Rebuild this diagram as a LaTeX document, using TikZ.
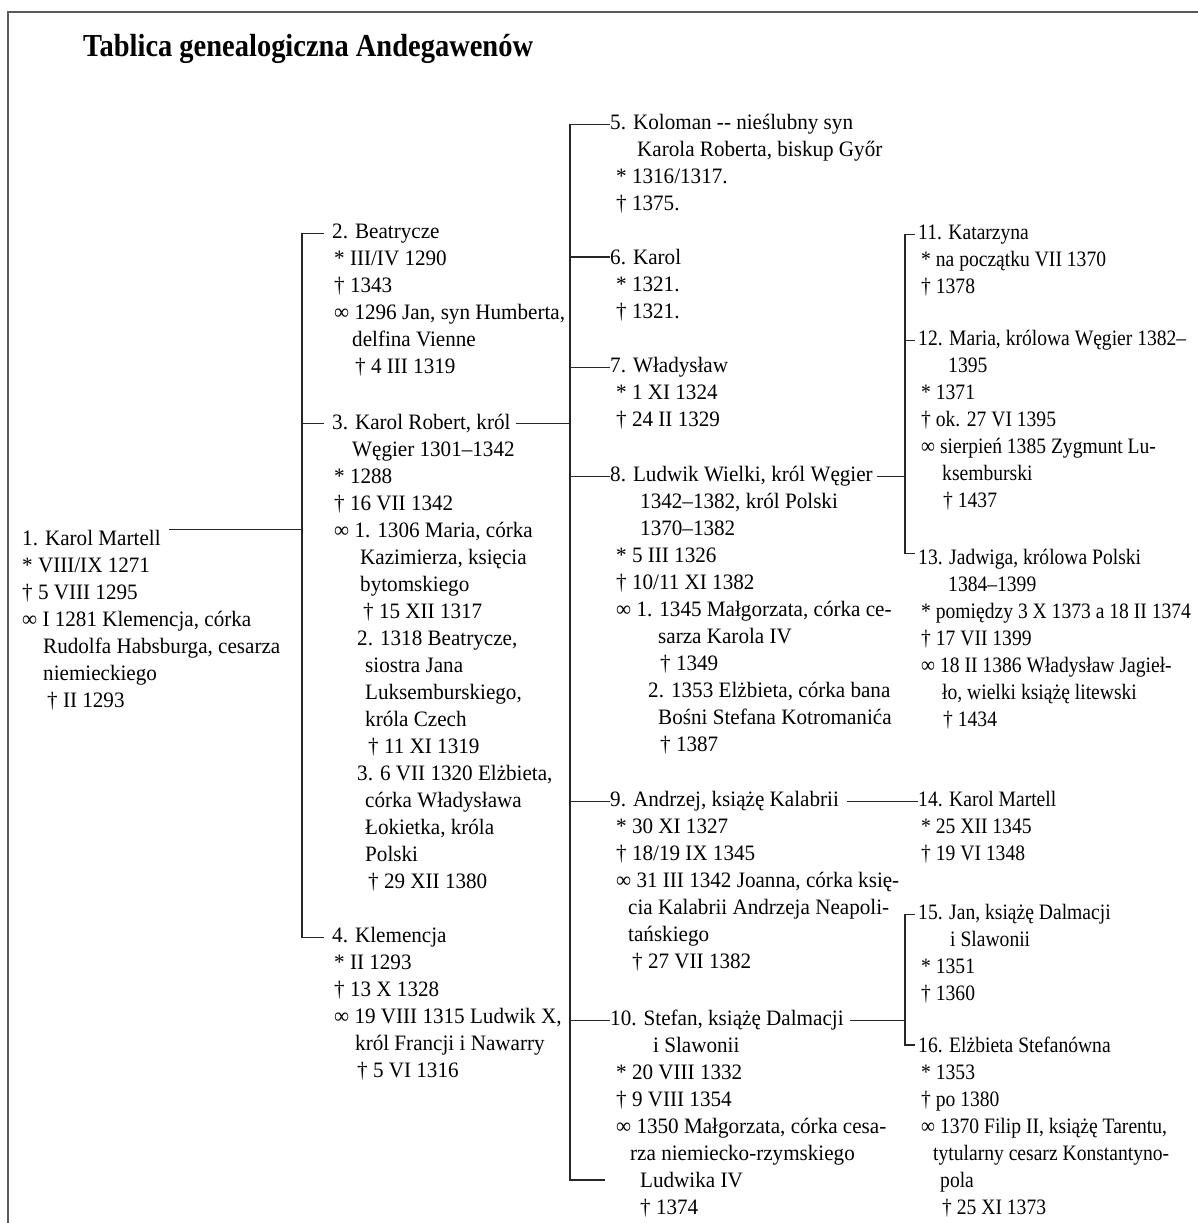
\documentclass[tikz,border=0pt]{standalone}
\usepackage{fontspec}
\setmainfont[FakeStretch=0.96]{Liberation Serif}
\newfontfamily\prawafont[FakeStretch=0.89]{Liberation Serif}
\newfontfamily\tytulfont[FakeStretch=0.89]{Liberation Serif}
\newcommand\osobafont{\fontsize{22}{27}\selectfont}

\begin{document}
\begin{tikzpicture}[x=1pt, y=-1pt,
    osoba/.style={anchor=base west, inner sep=0pt, font=\osobafont},
    dane/.style={osoba, align=left},
    prawa/.style={font=\osobafont\prawafont},
    linia/.style={line width=1.2pt, black!85}]

    \useasboundingbox (0,0) rectangle (1198,1223);
    \draw[line width=2pt, black!65] (8,1223) -- (8,12) -- (1198,12);

    \node[anchor=base west, inner sep=0pt, font=\fontsize{32}{36}\selectfont\tytulfont\bfseries] (tytul) at (83,57) {Tablica genealogiczna Andegawenów};

    \node[osoba] (n1) at (22,545) {1. Karol Martell};
    \node[dane] (n1d) at ([yshift=-162pt]n1.base west) {* VIII/IX 1271\\† 5 VIII 1295\\∞ I 1281 Klemencja, córka\\\hspace*{21pt}Rudolfa Habsburga, cesarza\\\hspace*{21pt}niemieckiego\\\hspace*{25pt}† II 1293};

    \node[osoba] (n2) at (332,238.5) {2. Beatrycze};
    \node[dane] (n2d) at ([xshift=2pt,yshift=-135pt]n2.base west) {* III/IV 1290\\† 1343\\∞ 1296 Jan, syn Humberta,\\\hspace*{18pt}delfina Vienne\\\hspace*{21pt}† 4 III 1319};
    \node[osoba] (n3) at (332,429.5) {3. Karol Robert, król};
    \node[dane] (n3d) at ([xshift=2pt,yshift=-459pt]n3.base west) {\hspace*{18pt}Węgier 1301–1342\\* 1288\\† 16 VII 1342\\∞ 1. 1306 Maria, córka\\\hspace*{26pt}Kazimierza, księcia\\\hspace*{26pt}bytomskiego\\\hspace*{29pt}† 15 XII 1317\\\hspace*{23pt}2. 1318 Beatrycze,\\\hspace*{31pt}siostra Jana\\\hspace*{31pt}Luksemburskiego,\\\hspace*{31pt}króla Czech\\\hspace*{34pt}† 11 XI 1319\\\hspace*{23pt}3. 6 VII 1320 Elżbieta,\\\hspace*{31pt}córka Władysława\\\hspace*{31pt}Łokietka, króla\\\hspace*{31pt}Polski\\\hspace*{34pt}† 29 XII 1380};
    \node[osoba] (n4) at (332,942.5) {4. Klemencja};
    \node[dane] (n4d) at ([xshift=2pt,yshift=-135pt]n4.base west) {* II 1293\\† 13 X 1328\\∞ 19 VIII 1315 Ludwik X,\\\hspace*{21pt}król Francji i Nawarry\\\hspace*{23pt}† 5 VI 1316};

    \node[osoba] (n5) at (610,129.5) {5. Koloman -{}- nieślubny syn};
    \node[dane] (n5d) at ([xshift=6pt,yshift=-81pt]n5.base west) {\hspace*{21pt}Karola Roberta, biskup Győr\\* 1316/1317.\\† 1375.};
    \node[osoba] (n6) at (610,264.5) {6. Karol};
    \node[dane] (n6d) at ([xshift=6pt,yshift=-54pt]n6.base west) {* 1321.\\† 1321.};
    \node[osoba] (n7) at (610,372.5) {7. Władysław};
    \node[dane] (n7d) at ([xshift=6pt,yshift=-54pt]n7.base west) {* 1 XI 1324\\† 24 II 1329};
    \node[osoba] (n8) at (610,481.5) {8. Ludwik Wielki, król Węgier};
    \node[dane] (n8d) at ([xshift=6pt,yshift=-270pt]n8.base west) {\hspace*{24pt}1342–1382, król Polski\\\hspace*{24pt}1370–1382\\* 5 III 1326\\† 10/11 XI 1382\\∞ 1. 1345 Małgorzata, córka ce-\\\hspace*{42pt}sarza Karola IV\\\hspace*{44pt}† 1349\\\hspace*{32pt}2. 1353 Elżbieta, córka bana\\\hspace*{42pt}Bośni Stefana Kotromanića\\\hspace*{44pt}† 1387};
    \node[osoba] (n9) at (610,806.5) {9. Andrzej, książę Kalabrii};
    \node[dane] (n9d) at ([xshift=6pt,yshift=-162pt]n9.base west) {* 30 XI 1327\\† 18/19 IX 1345\\∞ 31 III 1342 Joanna, córka księ-\\\hspace*{12pt}cia Kalabrii Andrzeja Neapoli-\\\hspace*{12pt}tańskiego\\\hspace*{16pt}† 27 VII 1382};
    \node[osoba] (n10) at (610,1025.5) {10. Stefan, książę Dalmacji};
    \node[dane] (n10d) at ([xshift=6pt,yshift=-189pt]n10.base west) {\hspace*{37pt}i Slawonii\\* 20 VIII 1332\\† 9 VIII 1354\\∞ 1350 Małgorzata, córka cesa-\\\hspace*{14pt}rza niemiecko-rzymskiego\\\hspace*{24pt}Ludwika IV\\\hspace*{24pt}† 1374};

    \node[osoba,prawa] (n11) at (918,239.5) {11. Katarzyna};
    \node[dane,prawa] (n11d) at ([xshift=3pt,yshift=-54pt]n11.base west) {* na początku VII 1370\\† 1378};
    \node[osoba,prawa] (n12) at (918,345.5) {12. Maria, królowa Węgier 1382–};
    \node[dane,prawa] (n12d) at ([xshift=3pt,yshift=-162pt]n12.base west) {\hspace*{27pt}1395\\* 1371\\† ok. 27 VI 1395\\∞ sierpień 1385 Zygmunt Lu-\\\hspace*{21pt}ksemburski\\\hspace*{22pt}† 1437};
    \node[osoba,prawa] (n13) at (918,564.5) {13. Jadwiga, królowa Polski};
    \node[dane,prawa] (n13d) at ([xshift=3pt,yshift=-162pt]n13.base west) {\hspace*{27pt}1384–1399\\* pomiędzy 3 X 1373 a 18 II 1374\\† 17 VII 1399\\∞ 18 II 1386 Władysław Jagieł-\\\hspace*{21pt}ło, wielki książę litewski\\\hspace*{22pt}† 1434};
    \node[osoba,prawa] (n14) at (918,806.5) {14. Karol Martell};
    \node[dane,prawa] (n14d) at ([xshift=3pt,yshift=-54pt]n14.base west) {* 25 XII 1345\\† 19 VI 1348};
    \node[osoba,prawa] (n15) at (918,919.5) {15. Jan, książę Dalmacji};
    \node[dane,prawa] (n15d) at ([xshift=3pt,yshift=-81pt]n15.base west) {\hspace*{29pt}i Slawonii\\* 1351\\† 1360};
    \node[osoba,prawa] (n16) at (918,1052.5) {16. Elżbieta Stefanówna};
    \node[dane,prawa] (n16d) at ([xshift=3pt,yshift=-162pt]n16.base west) {* 1353\\† po 1380\\∞ 1370 Filip II, książę Tarentu,\\\hspace*{12pt}tytularny cesarz Konstantyno-\\\hspace*{19pt}pola\\\hspace*{21pt}† 25 XI 1373};

    \coordinate (v1) at (302,0);
    \coordinate (v2) at (570,0);
    \coordinate (v3) at (905,0);
    \coordinate (koniec) at (605,1180);

    \draw[linia] ([xshift=8pt]n1.north east) -- (n1.north east -| v1);
    \draw[linia] ([xshift=-8pt]n2.west) -- (n2.west -| v1) -- (n4.west -| v1) -- ([xshift=-8pt]n4.west);
    \draw[linia] (n3.west -| v1) -- ([xshift=-8pt]n3.west);

    \draw[linia] ([xshift=5pt]n3.east) -- (n3.east -| v2);
    \draw[linia] (n5.west) -- (n5.west -| v2) -- (koniec -| v2) -- (koniec);
    \draw[linia] (n6.west -| v2) -- (n6.west);
    \draw[linia] (n7.west -| v2) -- (n7.west);
    \draw[linia] (n8.west -| v2) -- (n8.west);
    \draw[linia] (n9.west -| v2) -- (n9.west);
    \draw[linia] (n10.west -| v2) -- (n10.west);

    \draw[linia] ([xshift=4pt]n8.east) -- (n8.east -| v3);
    \draw[linia] ([xshift=-3pt]n11.west) -- (n11.west -| v3) -- ([yshift=6pt]n13.west -| v3) -- ([xshift=-3pt,yshift=6pt]n13.west);
    \draw[linia] (n12.west -| v3) -- ([xshift=-3pt]n12.west);

    \draw[linia] ([xshift=8pt]n9.east) -- (n9.east -| n14.west);
    \draw[linia] ([xshift=6pt]n10.east) -- (n10.east -| v3);
    \draw[linia] ([xshift=-3pt]n15.west) -- (n15.west -| v3) -- (n16.west -| v3) -- ([xshift=-3pt]n16.west);
  \end{tikzpicture}
\end{document}
